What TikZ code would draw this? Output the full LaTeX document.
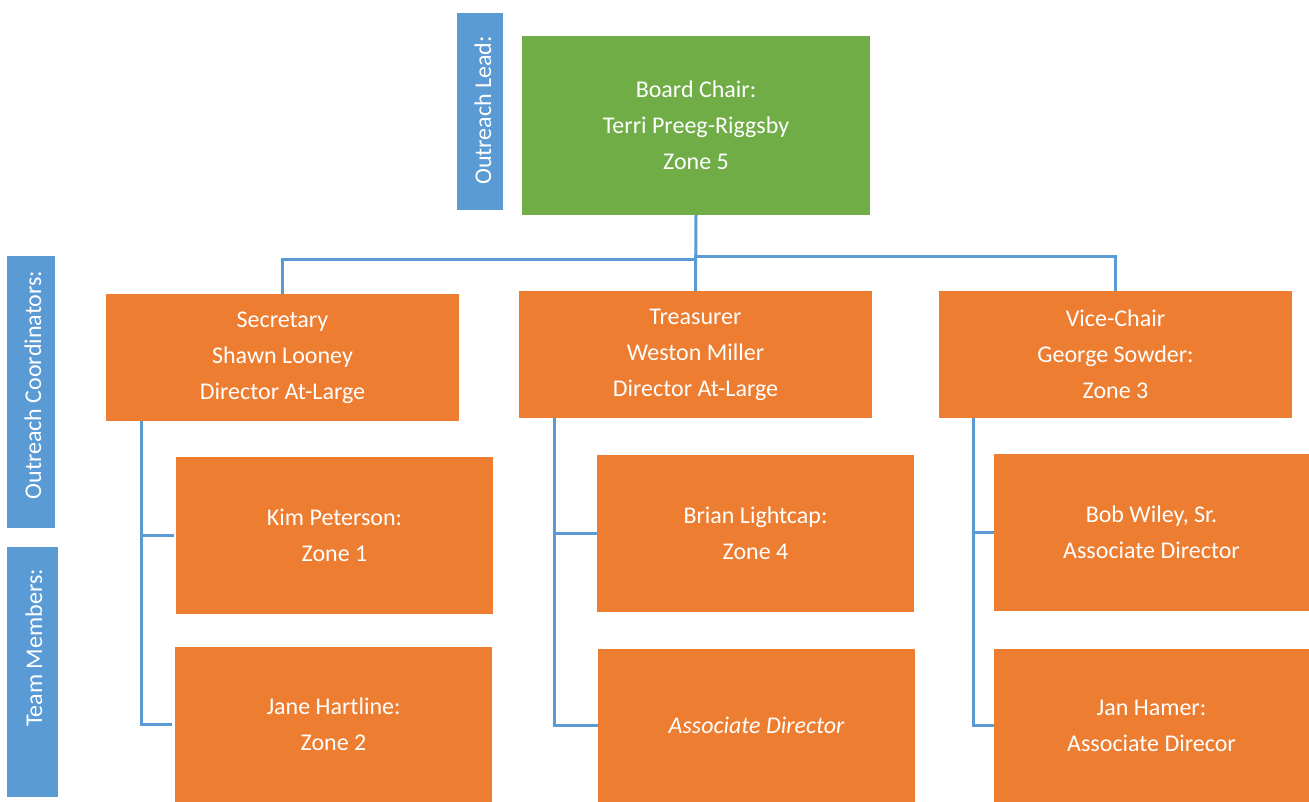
\documentclass[tikz,border=0pt]{standalone}
\usepackage{fontspec}
\setmainfont{Carlito}
\definecolor{obox}{HTML}{ED7D31}
\definecolor{gbox}{HTML}{70AD47}
\definecolor{bbox}{HTML}{5B9BD5}
\begin{document}
\begin{tikzpicture}[x=1pt,y=-1pt,
  box/.style={fill=obox, text=white, align=center, inner sep=0pt,
    font=\fontsize{24}{36}\selectfont},
  chairbox/.style={box, fill=gbox},
  lblbox/.style={fill=bbox, inner sep=0pt},
  lbltext/.style={text=white, rotate=90, inner sep=0pt, font=\fontsize{24}{30}\selectfont},
  conn/.style={draw=bbox, line width=3pt}]
\useasboundingbox (0,0) rectangle (1309,802);
\clip (0,0) rectangle (1309,802);

% side labels
\node[lblbox, minimum width=46, minimum height=197] (ol) at (480,111.5) {};
\node[lbltext] (oltxt) at (483,110.5) {Outreach Lead:};
\node[lblbox, minimum width=48, minimum height=272] (oc) at (31,392) {};
\node[lbltext] (octxt) at (33,385) {Outreach Coordinators:};
\node[lblbox, minimum width=51, minimum height=250] (tm) at (32.5,672) {};
\node[lbltext] (tmtxt) at (34,648) {Team Members:};

% boxes
\node[chairbox, minimum width=348, minimum height=179] (chair) at (696,125.5)
  {Board Chair:\\Terri Preeg-Riggsby\\Zone 5};
\node[box, minimum width=353, minimum height=127] (sec) at (282.5,357.5)
  {Secretary\\Shawn Looney\\Director At-Large};
\node[box, minimum width=353, minimum height=127] (tre) at (695.5,354.5)
  {Treasurer\\Weston Miller\\Director At-Large};
\node[box, minimum width=353, minimum height=127] (vic) at (1115.5,354.5)
  {Vice-Chair\\George Sowder:\\Zone 3};

\node[box, minimum width=317, minimum height=157] (kim) at (334.5,535.5)
  {Kim Peterson:\\Zone 1};
\node[box, minimum width=317, minimum height=155] (jane) at (333.5,724.5)
  {Jane Hartline:\\Zone 2};
\node[box, minimum width=317, minimum height=157] (bri) at (755.5,533.5)
  {Brian Lightcap:\\Zone 4};
\node[box, minimum width=317, minimum height=153] (ad) at (756.5,725.5)
  {\itshape Associate Director};
\node[box, minimum width=315, minimum height=157] (bob) at (1151.5,532.5)
  {Bob Wiley, Sr.\\Associate Director};
\node[box, minimum width=315, minimum height=153] (jan) at (1151.5,725.5)
  {Jan Hamer:\\Associate Direcor};

% connectors
\coordinate (busL) at (697,260);
\coordinate (busR) at (695,257);
\draw[conn] (chair.south) -- (tre.north);
\draw[conn] (sec.north) |- (busL);
\draw[conn] (vic.north) |- (busR);

\draw[conn] ([xshift=36pt]sec.south west) |- ([xshift=-3pt]jane.west);
\draw[conn] ([xshift=36pt]sec.south west |- kim.west) -- ([xshift=-2pt]kim.west);
\draw[conn] ([xshift=36pt]tre.south west) |- (ad.west);
\draw[conn] ([xshift=36pt]tre.south west |- bri.west) -- (bri.west);
\draw[conn] ([xshift=35pt]vic.south west) |- (jan.west);
\draw[conn] ([xshift=35pt]vic.south west |- bob.west) -- (bob.west);
\end{tikzpicture}
\end{document}
